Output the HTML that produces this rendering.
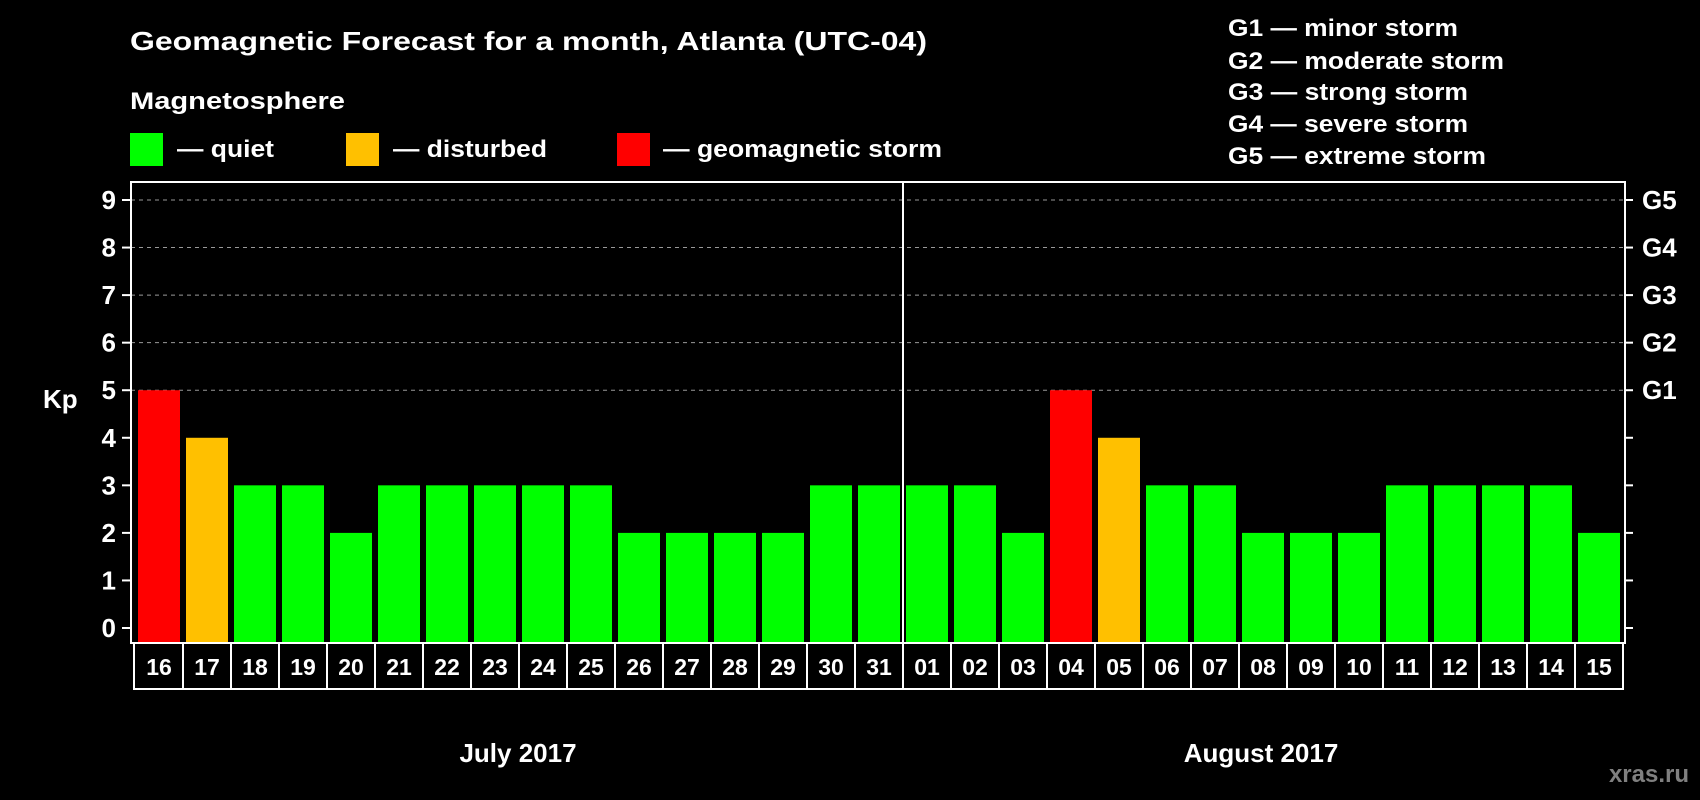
<!DOCTYPE html>
<html><head><meta charset="utf-8"><style>
html,body{margin:0;padding:0;background:#000;}
svg{display:block;font-family:"Liberation Sans",Arial,sans-serif;font-weight:bold;}
</style></head><body>
<svg id="chart" width="1700" height="800" xmlns="http://www.w3.org/2000/svg">
<rect x="0" y="0" width="1700" height="800" fill="#000"/>
<text x="130" y="50" font-size="26" fill="#fff" textLength="797" lengthAdjust="spacingAndGlyphs">Geomagnetic Forecast for a month, Atlanta (UTC-04)</text>
<text x="130" y="109" font-size="24" fill="#fff" textLength="215" lengthAdjust="spacingAndGlyphs">Magnetosphere</text>
<g>
<rect x="130" y="133" width="33" height="33" fill="#00ff00"/>
<text x="177" y="157" font-size="24" fill="#fff" textLength="97" lengthAdjust="spacingAndGlyphs">— quiet</text>
</g>
<g>
<rect x="346" y="133" width="33" height="33" fill="#ffc000"/>
<text x="393" y="157" font-size="24" fill="#fff" textLength="154" lengthAdjust="spacingAndGlyphs">— disturbed</text>
</g>
<g>
<rect x="617" y="133" width="33" height="33" fill="#ff0000"/>
<text x="663" y="157" font-size="24" fill="#fff" textLength="279" lengthAdjust="spacingAndGlyphs">— geomagnetic storm</text>
</g>
<g font-size="24" fill="#fff">
<text x="1228" y="36" textLength="230" lengthAdjust="spacingAndGlyphs">G1 — minor storm</text>
<text x="1228" y="69" textLength="276" lengthAdjust="spacingAndGlyphs">G2 — moderate storm</text>
<text x="1228" y="100" textLength="240" lengthAdjust="spacingAndGlyphs">G3 — strong storm</text>
<text x="1228" y="132" textLength="240" lengthAdjust="spacingAndGlyphs">G4 — severe storm</text>
<text x="1228" y="164" textLength="258" lengthAdjust="spacingAndGlyphs">G5 — extreme storm</text>
</g>
<text x="43" y="408" font-size="26" fill="#fff">Kp</text>
<text x="518" y="762" font-size="26" fill="#fff" text-anchor="middle">July 2017</text>
<text x="1261" y="762" font-size="26" fill="#fff" text-anchor="middle">August 2017</text>
<text x="1689" y="782" font-size="24" fill="#808080" text-anchor="end">xras.ru</text>
<g id="plot"></g>
</svg>
<script>
const days = ["16","17","18","19","20","21","22","23","24","25","26","27","28","29","30","31","01","02","03","04","05","06","07","08","09","10","11","12","13","14","15"];
const kpValues = [5,4,3,3,2,3,3,3,3,3,2,2,2,2,3,3,3,3,2,5,4,3,3,2,2,2,3,3,3,3,2];
const yTicks = [0,1,2,3,4,5,6,7,8,9];
const gLabels = ["","","","","","G1","G2","G3","G4","G5"];
const monthBreakIndex = 16;

const NS = "http://www.w3.org/2000/svg";
const plot = document.getElementById("plot");
const L = 131, R = 1625, T = 182, B = 643, rowB = 689;
const y0 = 628, unit = (628 - 200) / 9;
const firstBar = 138, pitch = 48, barW = 42;
function yScale(v){ return y0 - v * unit; }
function xScale(i){ return firstBar + i * pitch; }
function mk(tag, attrs){ const e = document.createElementNS(NS, tag); for (const k in attrs) e.setAttribute(k, attrs[k]); plot.appendChild(e); return e; }
function color(v){ return v >= 5 ? "#ff0000" : (v >= 4 ? "#ffc000" : "#00ff00"); }

yTicks.forEach((t, i) => {
  const y = yScale(t);
  if (t >= 5) {
    const g = mk("line", {x1: L, x2: R, y1: y, y2: y, stroke: "#999", "stroke-width": 1, "stroke-dasharray": "4,4"});
    
    
  }
  const lt = mk("line", {x1: 122, x2: L, y1: y, y2: y, stroke: "#fff", "stroke-width": 2});
  
  
  const rt = mk("line", {x1: R, x2: 1633, y1: y, y2: y, stroke: "#fff", "stroke-width": 2});
  
  
  const lab = mk("text", {x: 116, y: y + 9, "font-size": 26, fill: "#fff", "text-anchor": "end"});
  lab.textContent = t;
  
  
  if (gLabels[i]) {
    const gl = mk("text", {x: 1642, y: y + 9, "font-size": 26, fill: "#fff"});
    gl.textContent = gLabels[i];
    
    
  }
});

kpValues.forEach((v, i) => {
  const x = xScale(i);
  const b = mk("rect", {x: x, y: yScale(v), width: barW, height: B - yScale(v), fill: color(v)});
  
  
});

const frame = mk("rect", {x: L, y: T, width: R - L, height: B - T, fill: "none", stroke: "#fff", "stroke-width": 2});



const dx = xScale(monthBreakIndex) - 3;
const div = mk("line", {x1: dx, x2: dx, y1: T, y2: B, stroke: "#fff", "stroke-width": 2});



const rowL = xScale(0) - 4, rowR = xScale(days.length - 1) + barW + 3;
const row = mk("rect", {x: rowL, y: B, width: rowR - rowL, height: rowB - B, fill: "none", stroke: "#fff", "stroke-width": 2});


days.forEach((d, i) => {
  const x = xScale(i);
  if (i > 0) {
    const sep = mk("line", {x1: x - 3, x2: x - 3, y1: B, y2: rowB, stroke: "#fff", "stroke-width": 2});
    
    
  }
  const t = mk("text", {x: x + barW / 2, y: 675, "font-size": 23, fill: "#fff", "text-anchor": "middle"});
  t.textContent = d;
  
  
});
</script>
</body></html>
